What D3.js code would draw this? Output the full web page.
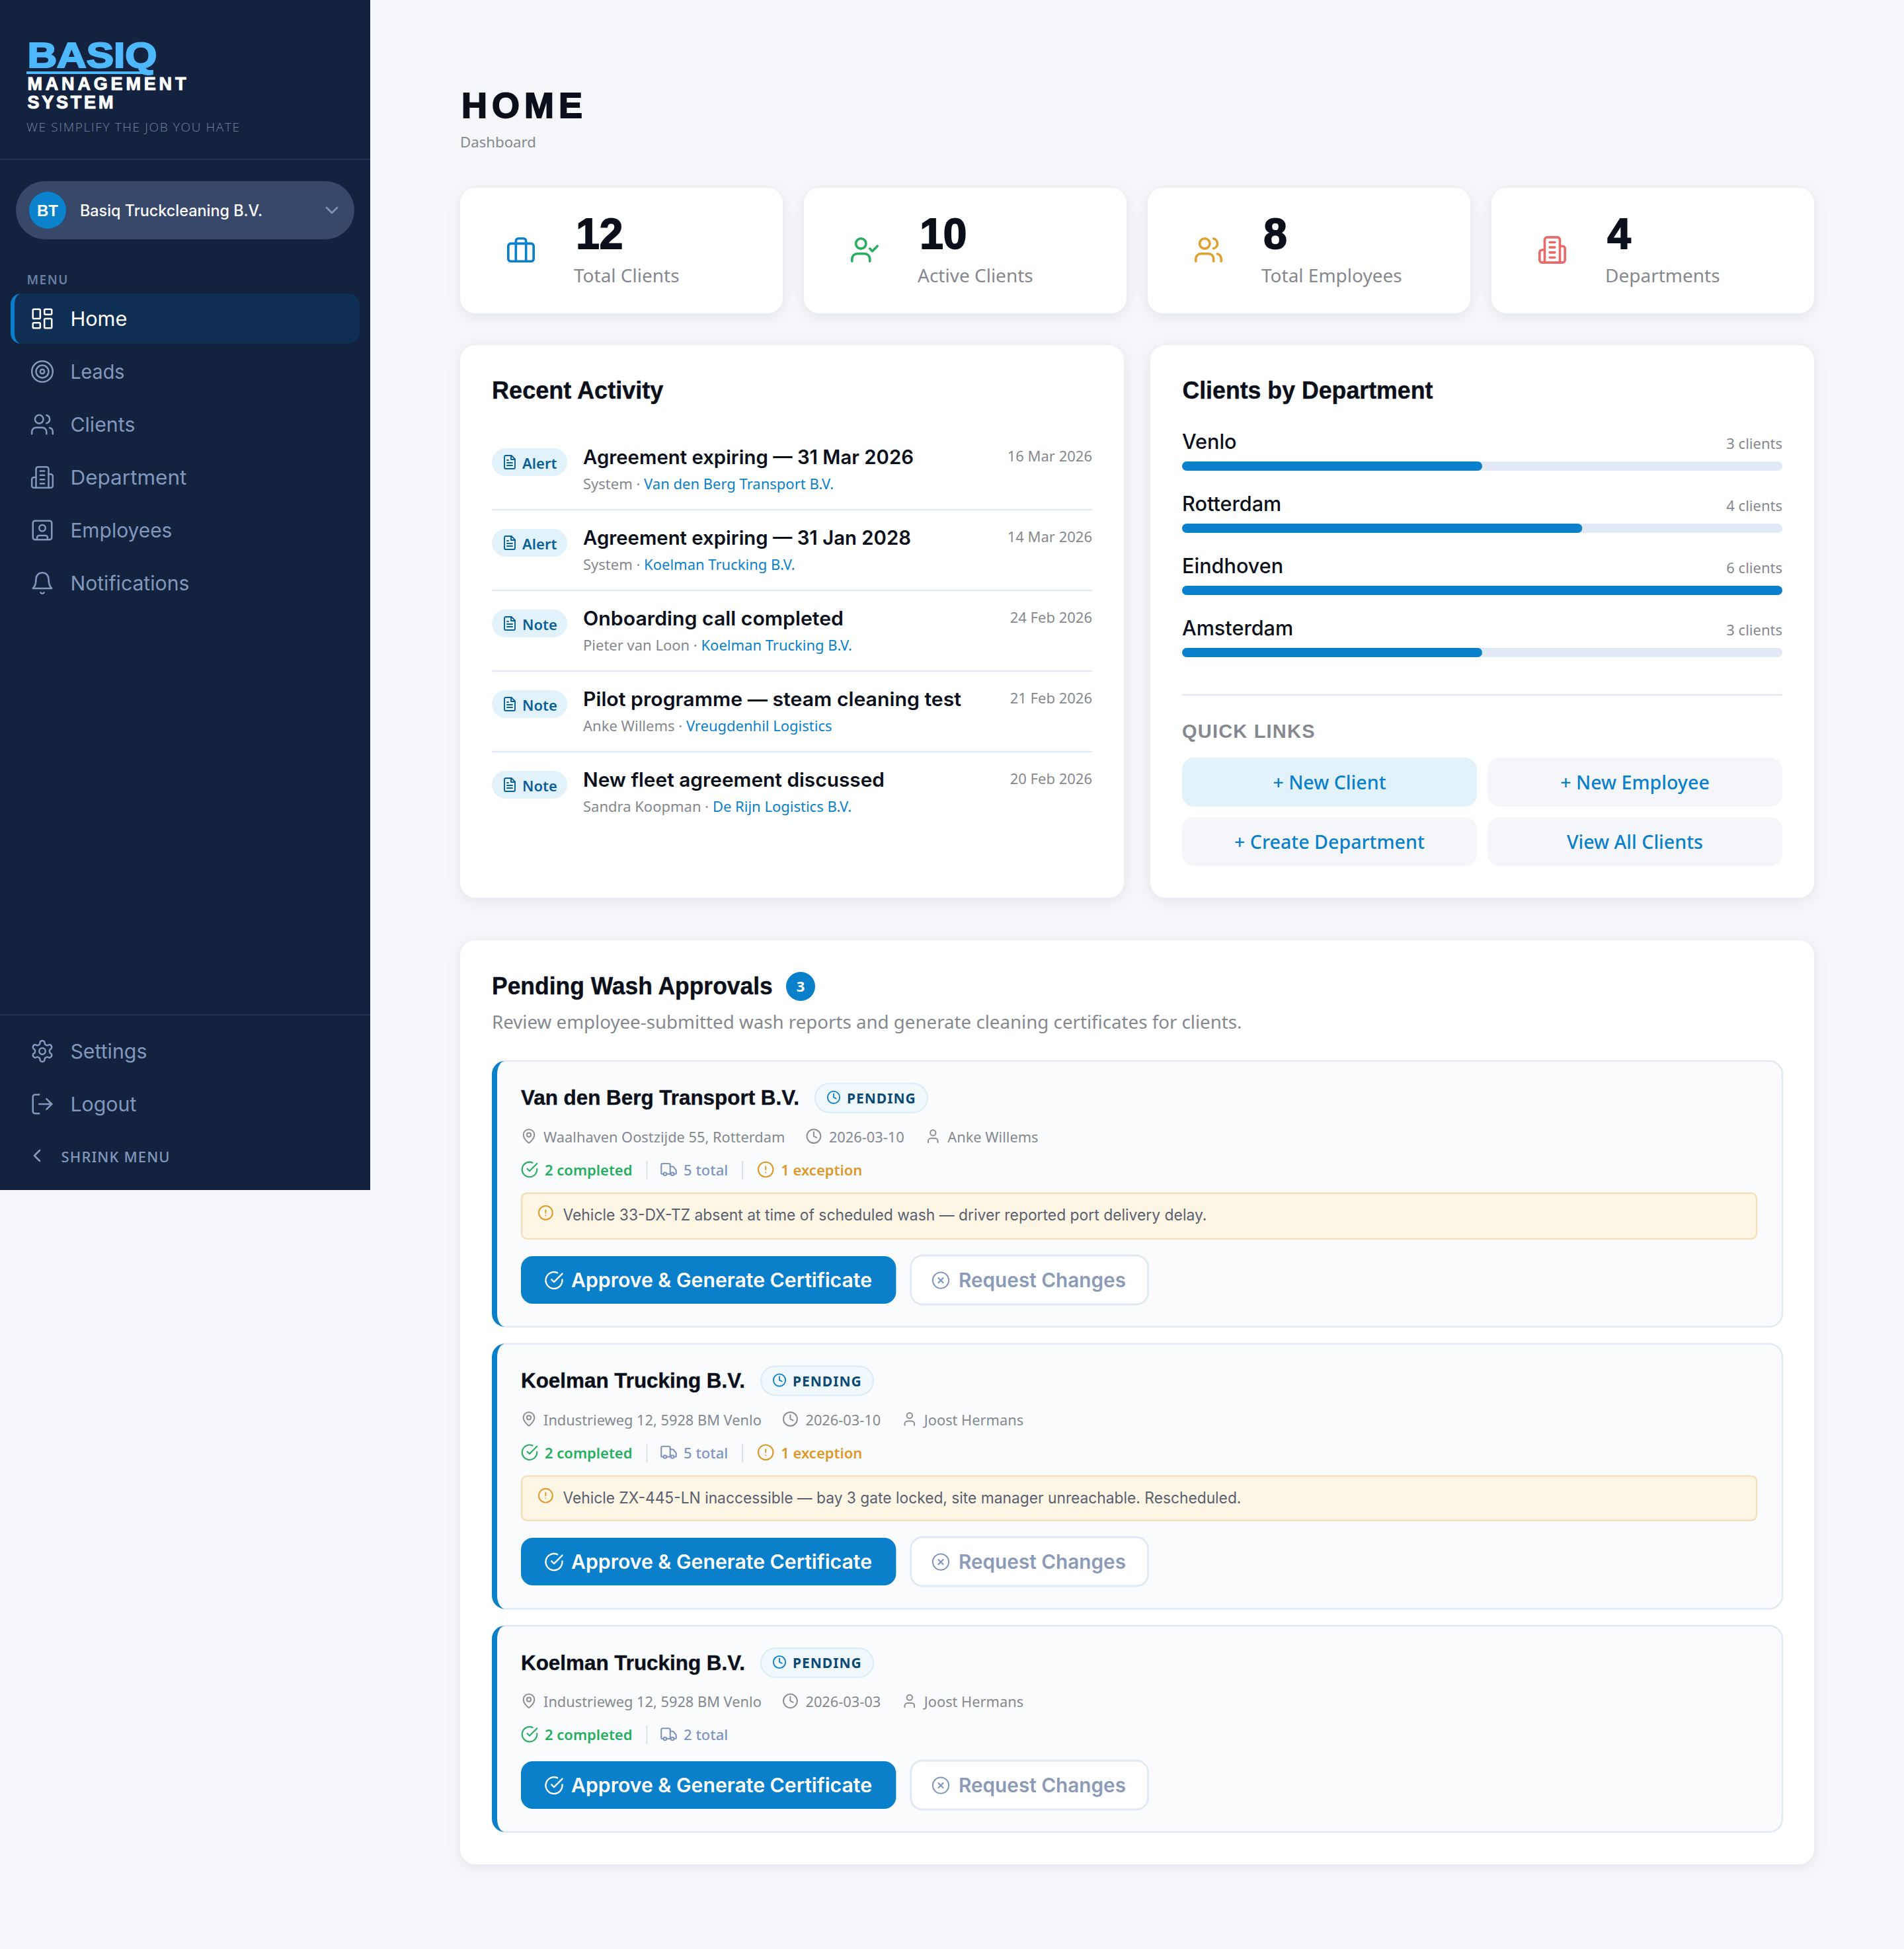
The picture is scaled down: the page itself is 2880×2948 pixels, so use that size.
<!DOCTYPE html>
<html>
<head>
<meta charset="utf-8">
<script src="https://cdn.jsdelivr.net/npm/d3@7/dist/d3.min.js"></script>
<style>
  html, body { margin: 0; padding: 0; background: #f4f6fa; }
  svg { display: block; }
  text { white-space: pre; }
</style>
</head>
<body>
<div id="page"></div>
<script>
// values
const navItems = ['Home', 'Leads', 'Clients', 'Department', 'Employees', 'Notifications'];
const navIcons = ['grid', 'target', 'users', 'building', 'badge', 'bell'];
const footItems = ['Settings', 'Logout'];
const footIcons = ['gear', 'logout'];

const statValues = [12, 10, 8, 4];
const statLabels = ['Total Clients', 'Active Clients', 'Total Employees', 'Departments'];
const statIcons = ['briefcase', 'userCheck', 'users', 'building'];
const statColors = ['#0a7fca', '#27ae60', '#e0a030', '#e86a6a'];

const activityKinds = ['Alert', 'Alert', 'Note', 'Note', 'Note'];
const activityTitles = ['Agreement expiring — 31 Mar 2026', 'Agreement expiring — 31 Jan 2028', 'Onboarding call completed', 'Pilot programme — steam cleaning test', 'New fleet agreement discussed'];
const activityWho = ['System', 'System', 'Pieter van Loon', 'Anke Willems', 'Sandra Koopman'];
const activityClients = ['Van den Berg Transport B.V.', 'Koelman Trucking B.V.', 'Koelman Trucking B.V.', 'Vreugdenhil Logistics', 'De Rijn Logistics B.V.'];
const activityDates = ['16 Mar 2026', '14 Mar 2026', '24 Feb 2026', '21 Feb 2026', '20 Feb 2026'];

const departments = ['Venlo', 'Rotterdam', 'Eindhoven', 'Amsterdam'];
const departmentClients = [3, 4, 6, 3];
const quickLinks = ['+ New Client', '+ New Employee', '+ Create Department', 'View All Clients'];

const washClients = ['Van den Berg Transport B.V.', 'Koelman Trucking B.V.', 'Koelman Trucking B.V.'];
const washAddresses = ['Waalhaven Oostzijde 55, Rotterdam', 'Industrieweg 12, 5928 BM Venlo', 'Industrieweg 12, 5928 BM Venlo'];
const washDates = ['2026-03-10', '2026-03-10', '2026-03-03'];
const washEmployees = ['Anke Willems', 'Joost Hermans', 'Joost Hermans'];
const washCompleted = [2, 2, 2];
const washTotals = [5, 5, 2];
const washExceptions = [1, 1, 0];
const washNotes = ['Vehicle 33-DX-TZ absent at time of scheduled wash — driver reported port delivery delay.', 'Vehicle ZX-445-LN inaccessible — bay 3 gate locked, site manager unreachable. Rescheduled.', ''];

const icons = {
  grid: '<rect x="3" y="3" width="7" height="9" rx="1"/><rect x="14" y="3" width="7" height="5" rx="1"/><rect x="14" y="12" width="7" height="9" rx="1"/><rect x="3" y="16" width="7" height="5" rx="1"/>',
  target: '<circle cx="12" cy="12" r="10"/><circle cx="12" cy="12" r="6"/><circle cx="12" cy="12" r="2"/>',
  users: '<path d="M16 21v-2a4 4 0 0 0-4-4H6a4 4 0 0 0-4 4v2"/><circle cx="9" cy="7" r="4"/><path d="M22 21v-2a4 4 0 0 0-3-3.87"/><path d="M16 3.13a4 4 0 0 1 0 7.75"/>',
  building: '<path d="M6 22V4a2 2 0 0 1 2-2h8a2 2 0 0 1 2 2v18Z"/><path d="M6 12H4a2 2 0 0 0-2 2v6a2 2 0 0 0 2 2h2"/><path d="M18 9h2a2 2 0 0 1 2 2v9a2 2 0 0 1-2 2h-2"/><path d="M10 6h4M10 10h4M10 14h4M10 18h4"/>',
  badge: '<rect x="3" y="3" width="18" height="18" rx="2"/><circle cx="12" cy="10" r="3"/><path d="M7 21v-2a2 2 0 0 1 2-2h6a2 2 0 0 1 2 2v2"/>',
  bell: '<path d="M6 8a6 6 0 0 1 12 0c0 7 3 9 3 9H3s3-2 3-9"/><path d="M10.3 21a1.94 1.94 0 0 0 3.4 0"/>',
  gear: '<path d="M12.22 2h-.44a2 2 0 0 0-2 2v.18a2 2 0 0 1-1 1.73l-.43.25a2 2 0 0 1-2 0l-.15-.08a2 2 0 0 0-2.73.73l-.22.38a2 2 0 0 0 .73 2.73l.15.1a2 2 0 0 1 1 1.72v.51a2 2 0 0 1-1 1.74l-.15.09a2 2 0 0 0-.73 2.73l.22.38a2 2 0 0 0 2.73.73l.15-.08a2 2 0 0 1 2 0l.43.25a2 2 0 0 1 1 1.73V20a2 2 0 0 0 2 2h.44a2 2 0 0 0 2-2v-.18a2 2 0 0 1 1-1.73l.43-.25a2 2 0 0 1 2 0l.15.08a2 2 0 0 0 2.73-.73l.22-.39a2 2 0 0 0-.73-2.73l-.15-.08a2 2 0 0 1-1-1.74v-.5a2 2 0 0 1 1-1.74l.15-.09a2 2 0 0 0 .73-2.73l-.22-.38a2 2 0 0 0-2.73-.73l-.15.08a2 2 0 0 1-2 0l-.43-.25a2 2 0 0 1-1-1.73V4a2 2 0 0 0-2-2z"/><circle cx="12" cy="12" r="3"/>',
  logout: '<path d="M9 21H5a2 2 0 0 1-2-2V5a2 2 0 0 1 2-2h4"/><path d="M16 17l5-5-5-5"/><path d="M21 12H9"/>',
  briefcase: '<rect x="2" y="7" width="20" height="14" rx="2"/><path d="M16 21V5a2 2 0 0 0-2-2h-4a2 2 0 0 0-2 2v16"/>',
  userCheck: '<path d="M16 21v-2a4 4 0 0 0-4-4H6a4 4 0 0 0-4 4v2"/><circle cx="9" cy="7" r="4"/><path d="M16 11l2 2 4-4"/>',
  file: '<path d="M14.5 2H6a2 2 0 0 0-2 2v16a2 2 0 0 0 2 2h12a2 2 0 0 0 2-2V7.5L14.5 2z"/><path d="M14 2v6h6"/><path d="M16 13H8M16 17H8M10 9H8"/>',
  pin: '<path d="M20 10c0 6-8 12-8 12s-8-6-8-12a8 8 0 0 1 16 0Z"/><circle cx="12" cy="10" r="3"/>',
  clock: '<circle cx="12" cy="12" r="10"/><path d="M12 6v6l4 2"/>',
  user: '<path d="M19 21v-2a4 4 0 0 0-4-4H9a4 4 0 0 0-4 4v2"/><circle cx="12" cy="7" r="4"/>',
  check: '<path d="M22 11.08V12a10 10 0 1 1-5.93-9.14"/><path d="M22 4L12 14.01l-3-3"/>',
  truck: '<path d="M14 18V6a2 2 0 0 0-2-2H4a2 2 0 0 0-2 2v11a1 1 0 0 0 1 1h2"/><path d="M15 18H9"/><path d="M19 18h2a1 1 0 0 0 1-1v-3.65a1 1 0 0 0-.22-.62l-3.48-4.35A1 1 0 0 0 17.52 8H14"/><circle cx="17" cy="18" r="2"/><circle cx="7" cy="18" r="2"/>',
  alert: '<circle cx="12" cy="12" r="10"/><path d="M12 8v4M12 16h.01"/>',
  cross: '<circle cx="12" cy="12" r="10"/><path d="M15 9l-6 6M9 9l6 6"/>',
  down: '<path d="M6 9l6 6 6-6"/>',
  left: '<path d="M15 18l-6-6 6-6"/>'
};

const heavy = "'Liberation Sans', Arial, sans-serif";
const wide = "Inter, sans-serif";
const body = "'Noto Sans', 'Open Sans', sans-serif";
const blue = '#0a7fca', grey = '#85888e', ink = '#0a0f1a', line = '#e2e8f4';

const svg = d3.select('#page').append('svg')
  .attr('width', 2880).attr('height', 2948)
  .attr('viewBox', '0 0 1440 1474');

const shadow = svg.append('defs').append('filter').attr('id', 'soft')
  .attr('x', '-10%').attr('y', '-10%').attr('width', '120%').attr('height', '125%');
shadow.append('feDropShadow').attr('dx', 0).attr('dy', 2).attr('stdDeviation', 5)
  .attr('flood-color', '#1a2a50').attr('flood-opacity', 0.07);

function text(parent, x, y, str, font, size, weight, fill, opts) {
  opts = opts || {};
  const t = parent.append('text').attr('x', x).attr('y', y).text(str)
    .attr('font-family', font).attr('font-size', size).attr('font-weight', weight).attr('fill', fill);
  if (opts.anchor) t.attr('text-anchor', opts.anchor);
  if (opts.spacing) t.attr('letter-spacing', opts.spacing);
  if (opts.width) t.attr('textLength', opts.width).attr('lengthAdjust', 'spacingAndGlyphs');
  if (opts.spread) t.attr('textLength', opts.spread).attr('lengthAdjust', 'spacing');
  if (opts.bold) t.attr('stroke', fill).attr('stroke-width', opts.bold);
  return t;
}

function icon(parent, name, cx, cy, size, colour, sw) {
  return parent.append('g')
    .attr('transform', `translate(${cx - size / 2},${cy - size / 2}) scale(${size / 24})`)
    .attr('fill', 'none').attr('stroke', colour).attr('stroke-width', sw || 2)
    .attr('stroke-linecap', 'round').attr('stroke-linejoin', 'round')
    .html(icons[name]);
}

function box(parent, x, y, w, h, r, fill, stroke, sw) {
  const b = parent.append('rect').attr('x', x).attr('y', y).attr('width', w).attr('height', h)
    .attr('rx', r).attr('fill', fill);
  if (stroke) b.attr('stroke', stroke).attr('stroke-width', sw || 1);
  return b;
}

function rule(parent, x1, x2, y, colour, sw) {
  parent.append('line').attr('x1', x1).attr('x2', x2).attr('y1', y).attr('y2', y)
    .attr('stroke', colour).attr('stroke-width', sw || 1);
}

function endOf(t) {
  return +t.attr('x') + t.node().getComputedTextLength();
}

/* ---------- sidebar ---------- */
function drawSidebar() {
  const side = svg.append('g');
  const muted = '#8298bd';
  box(side, 0, 0, 280, 900, 0, '#12223f');

  text(side, 20.7, 51, 'BASIQ', heavy, 27, 700, '#4db8fb', { bold: 1.1, width: 98 });
  box(side, 20, 54, 89, 2, 0, '#4db8fb');
  text(side, 20.7, 68, 'MANAGEMENT', heavy, 13.5, 700, '#ffffff', { bold: 0.5, spread: 120 });
  text(side, 20.7, 82, 'SYSTEM', heavy, 13.5, 700, '#ffffff', { bold: 0.5, spread: 65 });
  text(side, 20, 99.3, 'WE SIMPLIFY THE JOB YOU HATE', "'Open Sans', sans-serif", 9.5, 300, '#76859f', { spread: 161 });
  rule(side, 0, 280, 120.5, '#1f3050');

  box(side, 12, 137, 256, 44, 22, '#37486a');
  side.append('circle').attr('cx', 36).attr('cy', 159).attr('r', 14).attr('fill', '#0a83cc');
  text(side, 36, 163.3, 'BT', heavy, 12, 700, '#fff', { anchor: 'middle' });
  text(side, 60.5, 163.5, 'Basiq Truckcleaning B.V.', wide, 12, 500, '#fff', { width: 138 });
  icon(side, 'down', 251, 159, 16, '#7d93b8', 2);

  text(side, 20.2, 215, 'MENU', body, 9.5, 600, '#6c7fa3', { spread: 31 });

  const navY = d3.scaleLinear().domain([0, 1]).range([241.4, 281.4]);
  box(side, 8, 222, 264, 38, 9, '#0e2f53');
  side.append('path').attr('d', 'M16 222 a8 8 0 0 0 -8 8 v22 a8 8 0 0 0 8 8 a5 8 0 0 1 -5 -8 v-22 a5 8 0 0 1 5 -8z').attr('fill', blue);

  const navWidths = [43, 41, 49, 88, 77, 90];
  navItems.forEach((d, i) => {
    const colour = i === 0 ? '#ffffff' : muted;
    icon(side, navIcons[i], 32, navY(i) - 0.4, 19, colour, 1.6);
    text(side, 53.2, navY(i) + 5.2, d, wide, 15, 400, colour, { width: navWidths[i] });
  });

  rule(side, 0, 280, 767.5, '#1f3050');
  const footY = d3.scaleLinear().domain([0, 1]).range([795.4, 835.4]);
  const footWidths = [58, 50];
  footItems.forEach((d, i) => {
    icon(side, footIcons[i], 32, footY(i) - 0.4, 19, muted, 1.6);
    text(side, 53.2, footY(i) + 5.2, d, wide, 15, 400, muted, { width: footWidths[i] });
  });
  icon(side, 'left', 28, 874, 16, muted, 2);
  text(side, 46.3, 879, 'SHRINK MENU', body, 11, 500, muted, { spread: 82 });
}

/* ---------- header and stat cards ---------- */
function drawStats() {
  const g = svg.append('g');
  text(g, 349, 89, 'HOME', heavy, 27, 700, ink, { bold: 0.9, spread: 91.5 });
  text(g, 348, 111.4, 'Dashboard', body, 11.1, 400, grey);

  const cardX = d3.scaleLinear().domain([0, 1]).range([348, 608]);
  statValues.forEach((v, i) => {
    const x = cardX(i);
    box(g, x, 142, 244, 95, 12, '#fff').attr('filter', 'url(#soft)');
    icon(g, statIcons[i], x + 46, 189, 23, statColors[i], 1.9);
    text(g, x + 87.6, 188, String(v), heavy, 32, 700, ink, { bold: 0.9 });
    text(g, x + 86, 213.4, statLabels[i], body, 14, 400, grey);
  });
}

/* ---------- recent activity ---------- */
function drawActivity() {
  const g = svg.append('g');
  const titleWidths = [250, 248, 197, 286, 228];
  box(g, 348, 261, 502, 418, 12, '#fff').attr('filter', 'url(#soft)');
  text(g, 372, 301.7, 'Recent Activity', heavy, 18, 700, ink, { bold: 0.2, width: 129.7 });

  const rowY = d3.scaleLinear().domain([0, 1]).range([0, 61]);
  activityTitles.forEach((title, i) => {
    const dy = rowY(i);
    box(g, 372, 339 + dy, 57, 21, 10.5, '#e2f2fa');
    icon(g, 'file', 385.5, 349.5 + dy, 12, '#0a5f96', 1.9);
    text(g, 395, 354.4 + dy, activityKinds[i], body, 11, 600, '#0a5f96');
    text(g, 441, 350.8 + dy, title, wide, 14.8, 600, ink, { width: titleWidths[i] });
    const sub = text(g, 441, 370.2 + dy, activityWho[i] + ' · ', body, 11, 400, grey);
    sub.append('tspan').attr('fill', blue).text(activityClients[i]);
    text(g, 826, 349 + dy, activityDates[i], body, 11, 400, grey, { anchor: 'end' });
    if (i < activityTitles.length - 1) rule(g, 372, 826, 385.5 + dy, line, 1.2);
  });
}

/* ---------- clients by department + quick links ---------- */
function drawDepartments() {
  const g = svg.append('g');
  box(g, 870, 261, 502, 418, 12, '#fff').attr('filter', 'url(#soft)');
  text(g, 894.2, 301.7, 'Clients by Department', heavy, 18, 700, ink, { bold: 0.2, width: 189.5 });

  const x = d3.scaleLinear().domain([0, d3.max(departmentClients)]).range([0, 454]);
  const rowY = d3.scaleLinear().domain([0, 1]).range([0, 47]);
  departments.forEach((d, i) => {
    const dy = rowY(i);
    text(g, 894, 339.5 + dy, d, wide, 15.3, 500, ink);
    text(g, 1348, 339.5 + dy, departmentClients[i] + ' clients', body, 11, 400, grey, { anchor: 'end' });
    box(g, 894, 349 + dy, x(d3.max(departmentClients)), 7, 3.5, '#e2e8f6');
    box(g, 894, 349 + dy, x(departmentClients[i]), 7, 3.5, blue);
  });

  rule(g, 894, 1348, 525.5, line, 1.2);
  text(g, 894, 558, 'QUICK LINKS', heavy, 14.5, 700, grey, { spacing: 0.6 });

  const linkX = d3.scaleLinear().domain([0, 1]).range([894, 1125]);
  const linkY = d3.scaleLinear().domain([0, 1]).range([573, 618]);
  quickLinks.forEach((d, i) => {
    const col = i % 2, row = Math.floor(i / 2);
    box(g, linkX(col), linkY(row), 223, 37, 9, i === 0 ? '#e2f2fa' : '#f4f6fa');
    text(g, linkX(col) + 111.5, linkY(row) + 24, d, body, 14.3, 500, blue, { anchor: 'middle' });
  });
}

/* ---------- pending wash approvals ---------- */
function drawApprovals() {
  const g = svg.append('g');
  box(g, 348, 711, 1024, 699, 12, '#fff').attr('filter', 'url(#soft)');
  text(g, 372, 751.9, 'Pending Wash Approvals', heavy, 18, 700, ink, { bold: 0.2, width: 212.4 });
  g.append('circle').attr('cx', 605.5).attr('cy', 746).attr('r', 11).attr('fill', blue);
  text(g, 605.5, 750, String(washClients.length), body, 11, 700, '#fff', { anchor: 'middle' });
  text(g, 372, 778, 'Review employee-submitted wash reports and generate cleaning certificates for clients.', body, 13.85, 400, grey);

  const greyIcon = '#8a8d93', green = '#27ae60', slate = '#7f95bd', amber = '#dc9a2b';
  // card boxes differ by a pixel or so in the reference
  const tops = [802.4, 1016.3, 1229.5];
  const heights = [201, 200.4, 156];
  const noteHeights = [34.5, 33.6, 0];
  const buttonTops = [147.6, 146.7, 102.5];
  const noteWidths = [487, 513, 0];

  washClients.forEach((client, i) => {
    const hasNote = washNotes[i] !== '';
    const top = tops[i], h = heights[i];

    box(g, 372.5, top, 975.5, h, 10, '#f9fbfd', line, 1.2);
    g.append('path')
      .attr('d', `M382 ${top} a10 10 0 0 0 -10 10 v${h - 20} a10 10 0 0 0 10 10 a6 10 0 0 1 -6 -10 v-${h - 20} a6 10 0 0 1 6 -10z`)
      .attr('fill', blue);

    // title and status pill
    const title = text(g, 394, top + 33.3, client, heavy, 15.7, 700, ink, { bold: 0.2 });
    const pillX = endOf(title) + 12;
    box(g, pillX, top + 17, 85, 22, 11, '#f0f8fc', '#dcecf4');
    icon(g, 'clock', pillX + 14, top + 27.5, 11, '#0a7fca', 2);
    text(g, pillX + 24, top + 32, 'PENDING', body, 10.5, 700, '#0a4a75', { spacing: 0.5 });

    // address, date, employee
    const metaY = top + 61.7;
    icon(g, 'pin', 400, metaY - 4.8, 12.5, greyIcon, 1.9);
    let t = text(g, 411, metaY, washAddresses[i], body, 10.9, 400, grey);
    let cx = endOf(t) + 21.8;
    icon(g, 'clock', cx, metaY - 4.8, 12.5, greyIcon, 1.9);
    t = text(g, cx + 11.5, metaY, washDates[i], body, 10.9, 400, grey);
    cx = endOf(t) + 21.8;
    icon(g, 'user', cx, metaY - 4.8, 12.5, greyIcon, 1.9);
    text(g, cx + 11, metaY, washEmployees[i], body, 10.9, 400, grey);

    // counters
    const statY = top + 86.6;
    icon(g, 'check', 400.5, statY - 4.5, 13.5, green, 1.9);
    t = text(g, 412, statY, washCompleted[i] + ' completed', body, 11, 600, green);
    let sx = endOf(t) + 11;
    g.append('line').attr('x1', sx).attr('x2', sx).attr('y1', statY - 11).attr('y2', statY + 3).attr('stroke', '#d8e0ec');
    icon(g, 'truck', sx + 16.5, statY - 4.5, 13.5, slate, 1.9);
    t = text(g, sx + 27.8, statY, washTotals[i] + ' total', body, 11, 500, slate);
    if (washExceptions[i] > 0) {
      sx = endOf(t) + 11;
      g.append('line').attr('x1', sx).attr('x2', sx).attr('y1', statY - 11).attr('y2', statY + 3).attr('stroke', '#d8e0ec');
      icon(g, 'alert', sx + 17.5, statY - 4.5, 13.5, amber, 1.9);
      text(g, sx + 29, statY, washExceptions[i] + ' exception', body, 11, 600, amber);
    }

    // exception note
    if (hasNote) {
      box(g, 394.5, top + 100, 934, noteHeights[i], 4, '#fef6e5', '#f6dfb8', 1.2);
      icon(g, 'alert', 412.7, top + 114.8, 12.5, amber, 1.9);
      text(g, 425.7, top + 120.8, washNotes[i], wide, 12, 400, '#5a6070', { width: noteWidths[i] });
    }

    // actions
    const btnY = top + buttonTops[i];
    box(g, 394, btnY, 283.7, 36, 9, blue);
    icon(g, 'check', 419, btnY + 18.3, 15, '#fff', 1.9);
    text(g, 432, btnY + 23.3, 'Approve & Generate Certificate', wide, 15, 600, '#fff', { width: 227.5 });
    box(g, 688.8, btnY - 0.5, 179.5, 37, 9, '#fff', line, 1.4);
    icon(g, 'cross', 711.5, btnY + 18.3, 14.5, slate, 1.7);
    text(g, 725, btnY + 23.3, 'Request Changes', wide, 15, 600, '#8a9ab8', { width: 126.5 });
  });
}

drawSidebar();
drawStats();
drawActivity();
drawDepartments();
drawApprovals();
</script>
</body>
</html>
